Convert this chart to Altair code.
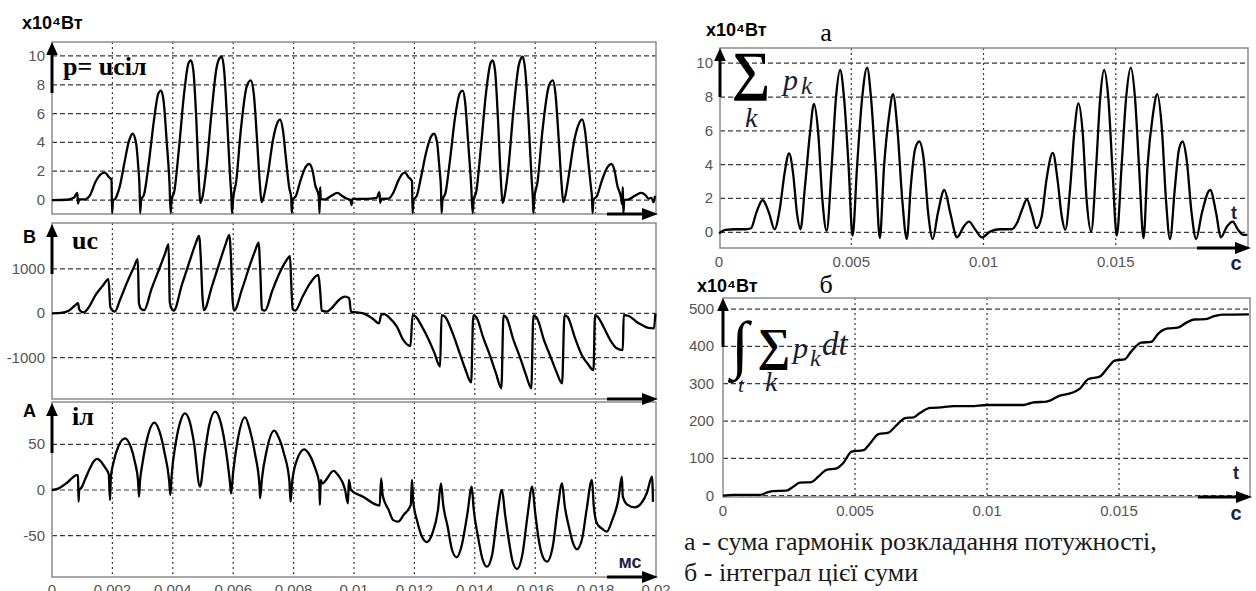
import altair as alt
import pandas as pd

# ------------------------------------------------------------------
# Data (time in ms, value in panel units)
# ------------------------------------------------------------------
P_PTS = [(0, 0), (0.5, 0.02), (0.72, 0.15), (0.84, 0.5), (0.86, -0.25), (0.9, 0.05), (1.1, 0.05),
         (1.25, 0.3), (1.45, 1.3), (1.62, 1.8), (1.75, 1.9), (1.88, 1.6), (1.97, 1.4), (1.99, -0.9),
         (2.02, -0.05), (2.1, 0.1), (2.25, 1.0), (2.4, 2.6), (2.55, 4.1), (2.67, 4.6), (2.78, 4.0),
         (2.86, 2.2), (2.9, 0.8), (2.92, -0.9), (2.95, 0), (3.05, 0.4), (3.2, 2.5), (3.38, 5.6),
         (3.52, 7.4), (3.61, 7.6), (3.7, 6.8), (3.8, 4.0), (3.89, 1.2), (3.93, -0.9), (3.96, 0.05),
         (4.05, 0.6), (4.2, 3.5), (4.38, 7.5), (4.52, 9.5), (4.6, 9.7), (4.68, 9.0), (4.78, 5.5),
         (4.86, 1.5), (4.91, -0.2), (4.98, 0.2), (5.1, 2.0), (5.28, 6.0), (5.45, 9.2), (5.57, 9.9),
         (5.62, 9.95), (5.7, 9.0), (5.8, 5.5), (5.9, 1.5), (5.94, 0.2), (5.96, -0.9), (6.0, 0.1),
         (6.1, 1.3), (6.25, 4.8), (6.45, 7.9), (6.58, 8.3), (6.68, 7.4), (6.78, 4.5), (6.88, 1.2),
         (6.94, -0.15), (7.02, 0.3), (7.15, 1.8), (7.32, 4.2), (7.47, 5.4), (7.55, 5.6), (7.65, 4.8),
         (7.75, 2.8), (7.86, 0.8), (7.92, 0.2), (7.94, -0.9), (7.97, 0), (8.08, 0.3), (8.22, 1.3),
         (8.4, 2.3), (8.52, 2.5), (8.62, 2.1), (8.72, 1.0), (8.83, 0.3), (8.86, -0.9), (8.88, 0.9),
         (8.9, 0.05), (9.05, 0.05), (9.25, 0.3), (9.45, 0.5), (9.6, 0.3), (9.75, 0.1), (9.88, 0.0),
         (9.92, -0.35), (9.95, 0.08),
         (10.4, 0.08), (10.75, 0.15), (10.84, 0.55), (10.87, -0.2), (10.9, 0.08), (11.15, 0.1),
         (11.3, 0.5), (11.48, 1.4), (11.62, 1.85), (11.69, 1.9), (11.8, 1.6), (11.92, 1.3),
         (11.94, -0.9), (11.97, 0), (12.08, 0.3), (12.22, 1.6), (12.4, 3.4), (12.55, 4.4),
         (12.65, 4.6), (12.75, 4.0), (12.83, 2.2), (12.88, 0.8), (12.9, -0.9), (12.93, 0),
         (13.03, 0.5), (13.18, 2.8), (13.35, 5.8), (13.5, 7.4), (13.6, 7.6), (13.68, 6.8),
         (13.78, 4.0), (13.88, 1.0), (13.93, -0.9), (13.96, 0), (14.05, 0.6), (14.2, 3.6),
         (14.38, 7.6), (14.52, 9.5), (14.59, 9.7), (14.67, 9.0), (14.77, 5.5), (14.86, 1.5),
         (14.92, -0.2), (14.98, 0.2), (15.1, 2.0), (15.28, 6.2), (15.45, 9.3), (15.55, 9.9),
         (15.59, 9.95), (15.67, 9.0), (15.78, 5.5), (15.88, 1.5), (15.92, 0.2), (15.94, -0.9),
         (15.97, 0.1), (16.08, 1.3), (16.24, 4.8), (16.45, 7.9), (16.58, 8.3), (16.67, 7.4),
         (16.77, 4.5), (16.87, 1.2), (16.93, -0.15), (17.0, 0.3), (17.12, 1.8), (17.3, 4.2),
         (17.47, 5.4), (17.56, 5.6), (17.65, 4.8), (17.75, 2.8), (17.85, 0.8), (17.88, 0.2),
         (17.9, -0.9), (17.93, 0), (18.05, 0.3), (18.2, 1.3), (18.4, 2.3), (18.53, 2.5),
         (18.62, 2.1), (18.72, 1.0), (18.84, 0.2), (18.88, -0.3), (18.9, 0.9), (18.92, -0.9),
         (18.95, 0), (19.1, 0.05), (19.3, 0.3), (19.5, 0.5), (19.65, 0.35), (19.75, 0.1),
         (19.85, 0.15), (19.92, -0.15), (19.97, 0.3)]

UC_PTS = [(0, 0), (0.3, 10), (0.55, 60), (0.75, 170), (0.86, 230), (0.9, 90), (0.95, 50), (1.05, 20),
          (1.2, 120), (1.45, 420), (1.7, 640), (1.87, 770), (1.93, 150), (1.98, 80), (2.08, 40),
          (2.25, 300), (2.5, 720), (2.7, 1020), (2.84, 1220), (2.88, 220), (2.95, 100), (3.05, 70),
          (3.3, 560), (3.55, 1000), (3.75, 1360), (3.86, 1560), (3.9, 250), (3.97, 90), (4.03, 60),
          (4.3, 640), (4.55, 1160), (4.75, 1560), (4.87, 1745), (4.93, 1200), (4.98, 400), (5.03, 70),
          (5.3, 620), (5.55, 1150), (5.75, 1560), (5.87, 1770), (5.93, 1200), (5.98, 300), (6.03, 60),
          (6.3, 560), (6.55, 1080), (6.73, 1420), (6.84, 1595), (6.9, 900), (6.95, 90), (7.05, 60),
          (7.3, 520), (7.55, 930), (7.75, 1180), (7.88, 1290), (7.92, 700), (7.97, 90), (8.05, 60),
          (8.3, 380), (8.55, 680), (8.82, 865), (8.88, 500), (8.93, 60), (9.1, 40), (9.25, 110),
          (9.5, 300), (9.7, 375), (9.84, 340), (9.9, 40),
          (10.3, 0), (10.6, -110), (10.83, -225), (10.9, -40), (11.0, -20), (11.2, -120),
          (11.42, -300), (11.63, -600), (11.87, -737), (11.94, -40), (12.05, -80), (12.25, -300),
          (12.45, -560), (12.65, -870), (12.85, -1200), (12.9, -40), (13.02, -80), (13.25, -420),
          (13.45, -800), (13.68, -1250), (13.88, -1560), (13.95, -50), (14.05, -90), (14.28, -550),
          (14.5, -950), (14.7, -1350), (14.88, -1690), (14.95, -50), (15.05, -100), (15.28, -600),
          (15.5, -1000), (15.7, -1400), (15.87, -1690), (15.94, -50), (16.05, -100), (16.3, -620),
          (16.52, -1000), (16.72, -1350), (16.89, -1580), (16.97, -40), (17.08, -90), (17.32, -560),
          (17.55, -950), (17.75, -1150), (17.93, -1280), (17.98, -40), (18.08, -90), (18.28, -330),
          (18.5, -620), (18.7, -790), (18.9, -830), (18.93, -40), (19.1, -60), (19.35, -190),
          (19.54, -263), (19.75, -330), (19.93, -340), (19.98, 0)]

IL_PTS = [(0, 0), (0.2, 1.5), (0.5, 8), (0.82, 16.4), (0.86, 16), (0.88, -12.8), (0.9, 0.7),
          (0.95, 1.5), (1.1, 12), (1.26, 24), (1.4, 32), (1.5, 34), (1.6, 32), (1.75, 25), (1.88, 17),
          (1.92, -11), (1.95, 14), (2.05, 32), (2.2, 48), (2.42, 56.6), (2.6, 48), (2.75, 30),
          (2.85, 10), (2.88, -7.3), (2.91, 8), (3.0, 30), (3.15, 56), (3.39, 73.7), (3.55, 65),
          (3.72, 42), (3.88, 10), (3.92, -5.5), (3.96, 15), (4.1, 52), (4.25, 75), (4.4, 84),
          (4.55, 76), (4.7, 52), (4.9, 3.6), (5.05, 38), (5.2, 70), (5.4, 85.8), (5.55, 78),
          (5.72, 52), (5.9, 6), (5.93, -3.6), (6.0, 20), (6.15, 55), (6.39, 79.6), (6.55, 66),
          (6.72, 40), (6.87, 5), (6.89, -9), (6.95, 12), (7.1, 42), (7.36, 65), (7.5, 58),
          (7.68, 40), (7.86, 10), (7.9, -12.8), (7.95, 8), (8.1, 32), (8.35, 44.5), (8.5, 40),
          (8.7, 25), (8.85, 7), (8.87, -16.4), (8.9, 11), (8.95, 7), (9.05, 10), (9.32, 21),
          (9.47, 16.4), (9.7, 1), (9.8, -14.6), (9.83, 11), (9.9, 0),
          (10.3, -7.3), (10.76, -16.4), (10.85, -17), (10.9, 12.8), (10.95, -6), (11.15, -22),
          (11.3, -33), (11.46, -34.7), (11.65, -27), (11.88, -16.4), (11.92, 11), (11.96, -12),
          (12.1, -35), (12.25, -51), (12.41, -57), (12.6, -47), (12.78, -22), (12.88, 7.3),
          (12.95, -15), (13.1, -40), (13.25, -66), (13.4, -73.7), (13.55, -63), (13.75, -27),
          (13.9, 3.6), (13.96, -20), (14.1, -50), (14.25, -75), (14.4, -84), (14.58, -70),
          (14.75, -26), (14.9, 0), (15.0, -26), (15.15, -60), (15.25, -78), (15.4, -86.5),
          (15.58, -70), (15.75, -27), (15.9, 3.6), (16.0, -25), (16.12, -55), (16.25, -73),
          (16.39, -78.5), (16.58, -62), (16.75, -19), (16.89, 7.3), (16.98, -18), (17.1, -38),
          (17.25, -58), (17.38, -65), (17.55, -54), (17.7, -22), (17.88, 11), (17.94, -18),
          (18.05, -37), (18.2, -42), (18.37, -45.6), (18.55, -33), (18.75, -11), (18.87, 14.6),
          (18.9, -7), (19.05, -16), (19.3, -19), (19.5, -15), (19.7, -3), (19.87, 14.6), (19.9, -13)]

SUM_PTS = [(0, -0.06), (0.25, 0.14), (0.6, 0.18), (1.02, 0.18), (1.21, 0.24), (1.4, 1.1), (1.52, 1.6),
           (1.65, 1.9), (1.78, 1.6), (1.9, 1.1), (2.1, 0.18), (2.3, 1.4), (2.48, 3.5), (2.65, 4.67),
           (2.8, 3.5), (2.95, 1.1), (3.08, 0.18), (3.25, 2.7), (3.44, 5.86), (3.59, 7.6), (3.75, 5.9),
           (3.91, 1.9), (4.07, 0.08), (4.26, 3.9), (4.42, 7.9), (4.58, 9.6), (4.73, 7.9), (4.9, 3.9),
           (5.05, -0.2), (5.22, 3.9), (5.41, 7.9), (5.6, 9.74), (5.75, 7.9), (5.92, 3.9), (6.08, -0.35),
           (6.24, 3.9), (6.43, 6.9), (6.58, 8.17), (6.74, 6.2), (6.93, 1.9), (7.1, -0.4), (7.25, 2.7),
           (7.41, 4.9), (7.57, 5.37), (7.74, 4.3), (7.91, 1.1), (8.08, -0.4), (8.27, 1.1), (8.52, 2.5),
           (8.75, 1.1), (9.0, -0.3), (9.25, 0.33), (9.45, 0.63), (9.7, 0.13), (9.94, -0.3),
           (10.25, 0.04), (10.63, 0.18), (11.07, 0.18), (11.26, 0.53), (11.45, 1.3), (11.64, 1.95),
           (11.83, 1.1), (12.0, 0.24), (12.2, 0.93), (12.38, 3.1), (12.62, 4.7), (12.8, 3.1),
           (12.96, 0.93), (13.09, 0.14), (13.28, 2.7), (13.43, 5.86), (13.59, 7.63), (13.75, 5.9),
           (13.9, 1.9), (14.07, 0.04), (14.26, 3.9), (14.41, 7.9), (14.56, 9.6), (14.72, 7.9),
           (14.87, 3.9), (15.04, -0.2), (15.22, 3.9), (15.39, 7.9), (15.57, 9.74), (15.73, 7.9),
           (15.88, 3.9), (16.05, -0.35), (16.2, 3.9), (16.4, 6.9), (16.57, 8.17), (16.74, 6.2),
           (16.9, 1.9), (17.05, -0.4), (17.24, 2.7), (17.39, 4.9), (17.53, 5.37), (17.68, 4.3),
           (17.87, 1.1), (18.04, -0.4), (18.25, 1.1), (18.57, 2.5), (18.8, 1.1), (18.97, -0.3),
           (19.2, 0.33), (19.42, 0.63), (19.63, 0.13), (19.82, -0.15), (19.97, -0.15)]

INT_PTS = [(0, 0), (0.38, 2), (1.39, 2), (1.65, 8), (1.9, 12.5), (2.4, 13.4), (2.66, 24), (2.91, 35),
           (3.35, 36.6), (3.61, 51), (3.92, 69), (4.3, 73), (4.56, 88), (4.87, 118), (5.32, 122),
           (5.57, 140), (5.89, 165), (6.27, 169), (6.52, 185), (6.9, 208), (7.22, 210), (7.47, 222),
           (7.85, 235), (8.35, 237), (8.73, 240), (9.37, 240), (10.0, 243), (11.38, 243), (11.76, 250),
           (12.26, 252), (12.76, 268), (13.27, 277), (13.52, 287), (13.83, 312), (14.27, 319),
           (14.59, 344), (14.84, 362), (15.21, 365), (15.46, 386), (15.84, 410), (16.22, 412),
           (16.47, 433), (16.85, 448), (17.22, 450), (17.54, 463), (17.85, 472), (18.29, 473),
           (18.6, 481), (18.92, 485), (19.92, 486)]

Y_TICKS_P = [0, 2, 4, 6, 8, 10]
Y_TICKS_UC = [-1000, 0, 1000]
Y_TICKS_IL = [-50, 0, 50]
Y_TICKS_SUM = [0, 2, 4, 6, 8, 10]
Y_TICKS_INT = [0, 100, 200, 300, 400, 500]

X_TICKS_LEFT = [0, 0.002, 0.004, 0.006, 0.008, 0.01, 0.012, 0.014, 0.016, 0.018, 0.02]
X_LABELS_LEFT = ["0", "0.002", "0.004", "0.006", "0.008", "0.01", "0.012", "0.014", "0.016", "0.018", "0.02"]
X_GRID_LEFT = [0.002, 0.004, 0.006, 0.008, 0.01, 0.012, 0.014, 0.016, 0.018]
X_TICKS_RIGHT = [0, 0.005, 0.01, 0.015]
X_LABELS_RIGHT = ["0", "0.005", "0.01", "0.015"]
X_GRID_RIGHT = [0.005, 0.01, 0.015]

CAPTION = ["а - сума гармонік розкладання потужності,", "б - інтеграл цієї суми"]

# ------------------------------------------------------------------
# Layout (pixel geometry of each plot box)
# ------------------------------------------------------------------
P1 = dict(x0=52, x1=656, y0=42, y1=214, xr=(52, 656), yd=(-0.97, 10.97))
P2 = dict(x0=52, x1=656, y0=223, y1=399, xr=(52, 656), yd=(-1933, 2037))
P3 = dict(x0=52, x1=656, y0=402, y1=577, xr=(52, 656), yd=(-95.3, 96.4))
PA = dict(x0=720, x1=1248, y0=48, y1=248, xr=(719, 1248), yd=(-0.93, 10.9))
PB = dict(x0=723, x1=1250, y0=298, y1=497, xr=(723, 1251), yd=(-3.5, 529.6))

SANS = "Liberation Sans"
SERIF = "Liberation Serif"
GRID_C = "#3a3a3a"
LAB_C = "#555555"
NAVY = "#1b2148"
MATH_C = "#1c1c30"
ONE = pd.DataFrame({"k": [0]})


def series_df(pts):
    return pd.DataFrame({"t": [a / 1000 for a, b in pts], "v": [b for a, b in pts]})


def xscale(P):
    return alt.Scale(domain=[0, 0.02], range=list(P["xr"]), nice=False, zero=False)


def yscale(P):
    return alt.Scale(domain=list(P["yd"]), range=[P["y1"], P["y0"]], nice=False, zero=False)


def panel(P, pts, yticks, xgrid, ylab_dx=7):
    out = []
    out.append(alt.Chart(pd.DataFrame({"v": yticks})).mark_rule(
        color=GRID_C, strokeWidth=1.2, strokeDash=[5, 3]).encode(
        y=alt.Y("v:Q", scale=yscale(P), axis=None), x=alt.value(P["x0"]), x2=alt.value(P["x1"])))
    out.append(alt.Chart(pd.DataFrame({"t": xgrid})).mark_rule(
        color=GRID_C, strokeWidth=1.2, strokeDash=[2, 3]).encode(
        x=alt.X("t:Q", scale=xscale(P), axis=None), y=alt.value(P["y0"]), y2=alt.value(P["y1"])))
    out.append(alt.Chart(ONE).mark_rect(fillOpacity=0, stroke="#8c8c8c", strokeWidth=1.5).encode(
        x=alt.value(P["x0"]), x2=alt.value(P["x1"]), y=alt.value(P["y0"]), y2=alt.value(P["y1"])))
    out.append(alt.Chart(pd.DataFrame({"v": yticks, "lab": [str(v) for v in yticks]})).mark_text(
        align="right", baseline="middle", font=SANS, fontSize=15, color=LAB_C).encode(
        y=alt.Y("v:Q", scale=yscale(P), axis=None), x=alt.value(P["x0"] - ylab_dx), text="lab:N"))
    out.append(alt.Chart(series_df(pts)).mark_line(
        color="black", strokeWidth=2.3, interpolate="monotone").encode(
        x=alt.X("t:Q", scale=xscale(P), axis=None), y=alt.Y("v:Q", scale=yscale(P), axis=None)))
    return out


def xlabels(P, ticks, labels, ymid):
    return alt.Chart(pd.DataFrame({"t": ticks, "lab": labels})).mark_text(
        align="center", baseline="middle", font=SANS, fontSize=15, color=LAB_C).encode(
        x=alt.X("t:Q", scale=xscale(P), axis=None), y=alt.value(ymid), text="lab:N")


UP = "M0,-1L0.9,1L-0.9,1Z"
RIGHT = "M1,0L-1,-0.75L-1,0.75Z"


def up_arrow(x, tip, bottom):
    return [
        alt.Chart(ONE).mark_rule(color="black", strokeWidth=3).encode(
            x=alt.value(x), y=alt.value(tip + 8), y2=alt.value(bottom)),
        alt.Chart(ONE).mark_point(shape=UP, filled=True, size=169, color="black", opacity=1).encode(
            x=alt.value(x), y=alt.value(tip + 6.5)),
    ]


def right_arrow(y, start, tip):
    return [
        alt.Chart(ONE).mark_rule(color="black", strokeWidth=3).encode(
            y=alt.value(y), x=alt.value(start), x2=alt.value(tip - 8)),
        alt.Chart(ONE).mark_point(shape=RIGHT, filled=True, size=256, color="black", opacity=1).encode(
            x=alt.value(tip - 8), y=alt.value(y)),
    ]


def txt(s, x, y, size, font=SANS, weight="normal", style="normal", align="left", color="black"):
    return alt.Chart(ONE).mark_text(
        text=s, font=font, fontSize=size, fontWeight=weight, fontStyle=style,
        align=align, baseline="alphabetic", color=color).encode(x=alt.value(x), y=alt.value(y))


layers = []
layers += panel(P1, P_PTS, Y_TICKS_P, X_GRID_LEFT)
layers += panel(P2, UC_PTS, Y_TICKS_UC, X_GRID_LEFT)
layers += panel(P3, IL_PTS, Y_TICKS_IL, X_GRID_LEFT)
layers += panel(PA, SUM_PTS, Y_TICKS_SUM, X_GRID_RIGHT)
layers += panel(PB, INT_PTS, Y_TICKS_INT, X_GRID_RIGHT, ylab_dx=9)

layers.append(xlabels(P3, X_TICKS_LEFT, X_LABELS_LEFT, 590))
layers.append(xlabels(PA, X_TICKS_RIGHT, X_LABELS_RIGHT, 262))
layers.append(xlabels(PB, X_TICKS_RIGHT, X_LABELS_RIGHT, 511))

# arrows
layers += up_arrow(52, 42, 93)
layers += up_arrow(52, 224, 274)
layers += up_arrow(52, 403, 453)
layers += up_arrow(720, 48, 97)
layers += up_arrow(723, 298, 347)
layers += right_arrow(214, 607, 658)
layers += right_arrow(399, 607, 658)
layers += right_arrow(577, 607, 658)
layers += right_arrow(248, 1197, 1251)
layers += right_arrow(497, 1198, 1252)

# unit labels and names
layers.append(txt("x10⁴Вт", 22, 29, 18, weight="bold"))
layers.append(txt("В", 23, 243, 18, weight="bold"))
layers.append(txt("А", 23, 417, 18, weight="bold"))
layers.append(txt("мс", 630, 568, 18, weight="bold", align="center", color=NAVY))
layers.append(txt("p= uсiл", 63, 75, 26, font=SERIF, weight="bold"))
layers.append(txt("uс", 72, 249, 26, font=SERIF, weight="bold"))
layers.append(txt("iл", 72, 425, 26, font=SERIF, weight="bold"))

layers.append(txt("x10⁴Вт", 706, 36, 18, weight="bold"))
layers.append(txt("а", 826, 41, 26, font=SERIF, align="center"))
layers.append(txt("∑", 751, 89, 54, font=SERIF, weight="bold", align="center"))
layers.append(txt("p", 783, 90, 30, font=SERIF, style="italic", color=MATH_C))
layers.append(txt("k", 801, 94, 25, font=SERIF, style="italic", color=MATH_C))
layers.append(txt("k", 745, 127, 28, font=SERIF, style="italic", color=MATH_C))
layers.append(txt("t", 1234, 219, 18, weight="bold", align="center", color=NAVY))
layers.append(txt("с", 1236, 270, 20, weight="bold", align="center", color=NAVY))

layers.append(txt("x10⁴Вт", 697, 292, 18, weight="bold"))
layers.append(txt("б", 826, 293, 26, font=SERIF, align="center"))
layers.append(txt("∫", 740, 366, 64, font=SERIF, align="center"))
layers.append(txt("∑", 774, 360, 46, font=SERIF, weight="bold", align="center"))
layers.append(txt("p", 793, 358, 30, font=SERIF, style="italic", color=MATH_C))
layers.append(txt("k", 810, 366, 24, font=SERIF, style="italic", color=MATH_C))
layers.append(txt("dt", 822, 355, 33, font=SERIF, style="italic", color=MATH_C))
layers.append(txt("t", 738, 392, 22, font=SERIF, style="italic", color=MATH_C))
layers.append(txt("k", 765, 391, 28, font=SERIF, style="italic", color=MATH_C))
layers.append(txt("t", 1236, 479, 18, weight="bold", align="center", color=NAVY))
layers.append(txt("с", 1236, 520, 20, weight="bold", align="center", color=NAVY))

layers.append(txt(CAPTION[0], 684, 550, 26, font=SERIF, color="#1a1a1a"))
layers.append(txt(CAPTION[1], 684, 581, 26, font=SERIF, color="#1a1a1a"))

chart = alt.layer(*layers).resolve_scale(x="independent", y="independent").properties(
    width=1256, height=591, autosize=alt.AutoSizeParams(type="none"), padding=0
).configure_view(stroke="transparent")

chart.save("out.html", embed_options={"renderer": "svg", "actions": False})
